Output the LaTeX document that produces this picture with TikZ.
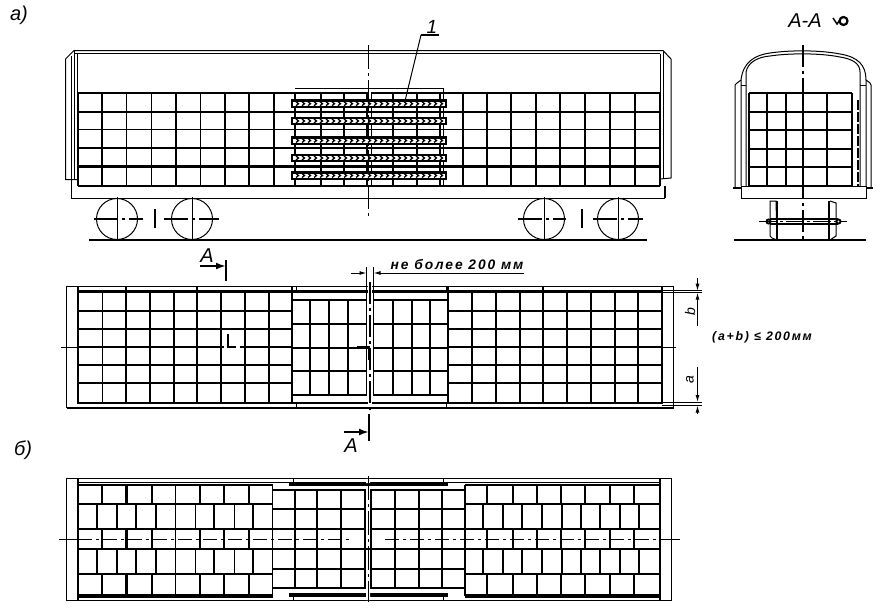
\documentclass[tikz,border=0pt]{standalone}
\usepackage{fontspec}
\setmainfont{Liberation Sans}
\usetikzlibrary{arrows.meta}
\newfontfamily\dimfont[LetterSpace=14,Scale=0.95]{Liberation Sans}

\begin{document}
\begin{tikzpicture}[
        x=1pt,
        y=-1pt,
        every node/.style={inner sep=0pt,font=\itshape},
        thinline/.style={line width=1pt},
        gridline/.style={line width=1.9pt},
        heavyline/.style={line width=2.9pt},
        barline/.style={line width=4pt},
        axisline/.style={line width=1pt,dash pattern=on 24pt off 4pt on 3pt off 4pt},
        axisheavy/.style={line width=1.8pt,dash pattern=on 22pt off 4pt on 3pt off 4pt},
        wheelaxis/.style={line width=1.8pt,dash pattern=on 24pt off 4pt on 3pt off 4pt},
        cutline/.style={line width=2.3pt},
        cutarrow/.style={line width=2.3pt,-{Latex[length=10pt,width=7pt]}},
        dimarrow/.style={line width=1pt,-{Latex[length=7pt,width=4pt]}},
        bigtext/.style={font=\itshape\fontsize{20}{20}\selectfont},
        dimtext/.style={font=\dimfont\bfseries\itshape\fontsize{14.5}{14.5}\selectfont}
    ]
    \useasboundingbox (0,0) rectangle (883,613);

    \node[bigtext] (labela) at (19,15) {а)};
    \node[bigtext] (labelb) at (23,450) {б)};

    % side view
    \draw[thinline] (660,50.5) -- (74,50.5) -- (65.5,59) -- (65.5,179.5) -- (78,179.5);
    \draw[thinline] (660,53.5) -- (74,53.5);
    \draw[thinline] (71,56) -- (71,179.5) (74,50.5) -- (74,180) (77,53.5) -- (77,93);
    \draw[thinline] (71,180) -- (71,198) -- (665,198);
    \draw[thinline] (660,50.5) -- (663,50.5) -- (671,59) -- (671,178) -- (660,179);
    \draw[thinline] (660,53.5) -- (660,93) (663,50.5) -- (663,179);
    \draw[gridline] (665,186) -- (665,198);
    \foreach \y in {93,112,129.5,148,186}
        \draw[gridline] (78,\y) -- (660,\y);
    \draw[heavyline] (78,166.5) -- (660,166.5);
    \foreach \x in {78,102,126.5,151.5,176,200.5,225,249,274,295,321,344,393,417,440,463,487,511,536,560,585,610,635,660}
        \draw[gridline] (\x,93) -- (\x,186);
    \draw[gridline] (367,93) -- (367,186);
    \draw[gridline] (371.5,93) -- (371.5,186);
    \fill[white] (368,92) rectangle (370.5,94.2);
    \draw[thinline] (295,88) -- (443,88) -- (443,186);
    \foreach \y in {103.7,121,140.5,158,175.5} {
        \draw[line width=2.4pt,fill=white] (292,\y-3.2) rectangle (446,\y+3.2);
        \foreach \x in {296,302,...,442}
            \draw[line width=1.3pt] (\x,\y-2) -- (\x+2.5,\y) -- (\x,\y+2);
    }
    \node[font=\itshape\fontsize{19}{19}\selectfont] (mark) at (432,27) {1};
    \coordinate (markend) at (405,101);
    \draw[line width=1.6pt] (421,35) -- (439,35);
    \draw[thinline] (421,35) -- (markend);
    \draw[axisline] (368,45) -- (368,218);
    \foreach \x/\y/\a/\b in {117/219/94/143,192/219/164/219,544/219/518/566,618/219/593/643} {
        \draw[thinline] (\x,\y) circle (20.5);
        \draw[wheelaxis] (\a,\y) -- (\b,\y);
    }
    \foreach \x in {117,192,544,618}
        \draw[thinline] (\x,197) -- (\x,241);
    \draw[gridline] (155,209) -- (155,228);
    \draw[gridline] (582,209) -- (582,228);
    \draw[line width=2pt] (89,240) -- (647,240);

    % section A-A
    \node[bigtext] (sectitle) at (805,21) {A-A};
    \draw[line width=2.2pt] (843.5,21) circle (4);
    \draw[line width=1.5pt] (833,18) -- (837,24) -- (842,17);
    \draw[thinline] (741,186) -- (741,80) .. controls (743,62) and (755,55) .. (770,53) .. controls (790,50) and (820,50) .. (840,54) .. controls (858,57) and (866,65) .. (866,80) -- (866,186);
    \draw[thinline] (746,186) -- (746,72) .. controls (748,62) and (758,57) .. (770,56) .. controls (790,53) and (820,53) .. (840,57) .. controls (852,59) and (860,63) .. (860,72) -- (860,186);
    \draw[gridline] (741,85.5) -- (746,85.5) (860,85.5) -- (866,85.5);
    \draw[thinline] (741,80) -- (737,83) -- (735,85) -- (735,187) (866,80) -- (870,83) -- (871,85) -- (871,187);
    \draw[gridline] (733,188) -- (741,188) (866,188) -- (873,188);
    \draw[thinline] (741,186) rectangle (866,198);
    \foreach \y in {93,112,130,149,186}
        \draw[gridline] (749,\y) -- (852,\y);
    \draw[heavyline] (749,167) -- (852,167);
    \foreach \x in {749,767,786,803,827,852}
        \draw[gridline] (\x,93) -- (\x,186);
    \draw[line width=2.3pt,dash pattern=on 10pt off 2pt] (858,100) -- (858,186);
    \draw[axisheavy] (803.3,45) -- (803.3,240);
    \draw[thinline] (770,201) -- (776,201) -- (777,240) -- (772,238) -- (770,236) -- cycle;
    \draw[gridline] (777,201) -- (777,240);
    \draw[thinline] (830,201) -- (836,203) -- (836,236) -- (830,240);
    \draw[gridline] (829,201) -- (829,240);
    \draw[line width=1.4pt] (770,219) -- (838,219) (770,224) -- (838,224);
    \draw[gridline] (768.5,221.5) circle (2) (838.5,221.5) circle (2);
    \draw[thinline,dash pattern=on 18pt off 3pt on 3pt off 3pt] (759,221.5) -- (847,221.5);
    \draw[line width=2pt] (734,240) -- (866,240);

    % plan a
    \draw[thinline] (66.5,286.5) rectangle (673.5,407.5);
    \draw[gridline] (66.5,408) -- (673.5,408);
    \foreach \y in {311,329,347,365,383} {
        \draw[gridline] (78,\y) -- (292,\y);
        \draw[gridline] (448,\y) -- (662,\y);
    }
    \draw[heavyline] (78,291.5) -- (662,291.5);
    \draw[heavyline] (78,403) -- (662,403);
    \foreach \x in {102.5,150,174,221,245,269,472,496,520,567,591,615,638}
        \draw[gridline] (\x,291) -- (\x,403);
    \foreach \x in {78,126,197,292,448,543,662}
        \draw[heavyline] (\x,287) -- (\x,404);
    \foreach \x in {296,446}
        \draw[thinline] (\x,287) -- (\x,291) (\x,403) -- (\x,407);
    \draw[gridline] (292,300) -- (366.5,300) -- (366.5,395) -- (292,395);
    \draw[gridline] (448,300) -- (373.5,300) -- (373.5,395) -- (448,395);
    \foreach \y in {324,347.7,371} {
        \draw[gridline] (292,\y) -- (366.5,\y);
        \draw[gridline] (373.5,\y) -- (448,\y);
    }
    \foreach \x in {310,329,348,393,412}
        \draw[gridline] (\x,300) -- (\x,395);
    \draw[heavyline] (430,300) -- (430,395);
    \fill[white] (367.6,283) rectangle (372.4,405);
    \draw[axisheavy] (370,282) -- (370,410);
    \draw[thinline] (61,347.5) -- (78,347.5) (662,347.5) -- (676,347.5);
    \draw[thinline] (366.5,267) -- (366.5,300) (373.5,267) -- (373.5,300);
    \draw[dimarrow] (351,273) -- (366.5,273);
    \draw[dimarrow] (524,273) -- (373.5,273);
    \node[dimtext] (gapnote) at (457,265) {не более 200 мм};

    % section marks
    \draw[cutline] (226,260) -- (226,281);
    \draw[cutarrow] (200,266) -- (226,266);
    \node[bigtext] (cuttop) at (207,256) {A};
    \draw[cutline] (369,414) -- (369,441);
    \draw[cutarrow] (344,432) -- (369,432);
    \node[bigtext] (cutbottom) at (351,446) {A};
    \fill[white] (224,338) rectangle (240,350);
    \draw[cutline] (228,334) -- (228,347) -- (236,347);
    \draw[cutline] (357,347.5) -- (369,347.5) -- (369,360);

    % plan a dimensions
    \foreach \y in {290.7,292.7,402,405.6}
        \draw[thinline] (662,\y) -- (702,\y);
    \draw[dimarrow] (697.5,278) -- (697.5,290.7);
    \draw[dimarrow] (697.5,326) -- (697.5,292.7);
    \draw[dimarrow] (697.5,367) -- (697.5,402);
    \draw[dimarrow] (697.5,414) -- (697.5,405.6);
    \node[rotate=90,font=\itshape\fontsize{14}{14}\selectfont] (dimb) at (690,312) {b};
    \node[rotate=90,font=\itshape\fontsize{14}{14}\selectfont] (dima) at (690,380) {a};
    \node[font=\dimfont\bfseries\itshape\fontsize{13}{13}\selectfont] (formula) at (762,337) {(a+b) ≤ 200мм};

    % plan b
    \draw[thinline] (66,478.5) rectangle (671.5,600);
    \draw[gridline] (78,478.5) -- (78,600) (660,478.5) -- (660,600);
    \draw[thinline] (78,482) -- (660,482);
    \foreach \y in {504,529,574.3} {
        \draw[gridline] (78,\y) -- (272.5,\y);
        \draw[gridline] (465,\y) -- (660,\y);
    }
    \draw[gridline] (78,485) -- (272.5,485) (465,485) -- (660,485);
    \draw[heavyline] (78,549) -- (660,549);
    \draw[barline] (78,595.5) -- (272.5,595.5) (465,595.5) -- (660,595.5);
    \foreach \ya/\yb in {485/504,529/549,574.3/595} {
        \foreach \x in {102,152,175.5,200,224,249,487,513,537,561,585,610}
            \draw[gridline] (\x,\ya) -- (\x,\yb);
        \draw[heavyline] (126.5,\ya) -- (126.5,\yb);
        \draw[heavyline] (634,\ya) -- (634,\yb);
    }
    \foreach \ya/\yb in {504/529,549/574.3}
        \foreach \x in {97,117,136,156,175.5,195.5,214,234.5,253,483,503,522,542,562,581,600,620,639}
            \draw[gridline] (\x,\ya) -- (\x,\yb);
    \foreach \x in {272.5,465}
        \draw[gridline] (\x,485) -- (\x,596);
    \draw[gridline] (272.5,490) -- (365,490) -- (365,588) -- (272.5,588);
    \draw[gridline] (465,490) -- (371,490) -- (371,588) -- (465,588);
    \foreach \y in {509,529,569} {
        \draw[gridline] (272.5,\y) -- (365,\y);
        \draw[gridline] (371,\y) -- (465,\y);
    }
    \foreach \x in {295,341,419,442}
        \draw[gridline] (\x,490) -- (\x,588);
    \foreach \x in {317,395}
        \draw[heavyline] (\x,490) -- (\x,588);
    \draw[barline] (289,484) -- (448,484) (289,594.5) -- (448,594.5);
    \foreach \x in {293.5,443}
        \draw[thinline] (\x,478.5) -- (\x,484) (\x,594.5) -- (\x,600);
    \fill[white] (366,478.8) rectangle (370,483) (366,591) rectangle (370,600);
    \draw[axisline] (368,476) -- (368,602);
    \draw[thinline] (59,539) -- (78,539) (660,539) -- (680,539);
    \draw[thinline,dash pattern=on 14pt off 4pt on 3pt off 4pt] (78,539) -- (352,539);
    \draw[thinline,dash pattern=on 14pt off 4pt on 3pt off 4pt] (385,539) -- (660,539);
\end{tikzpicture}
\end{document}
